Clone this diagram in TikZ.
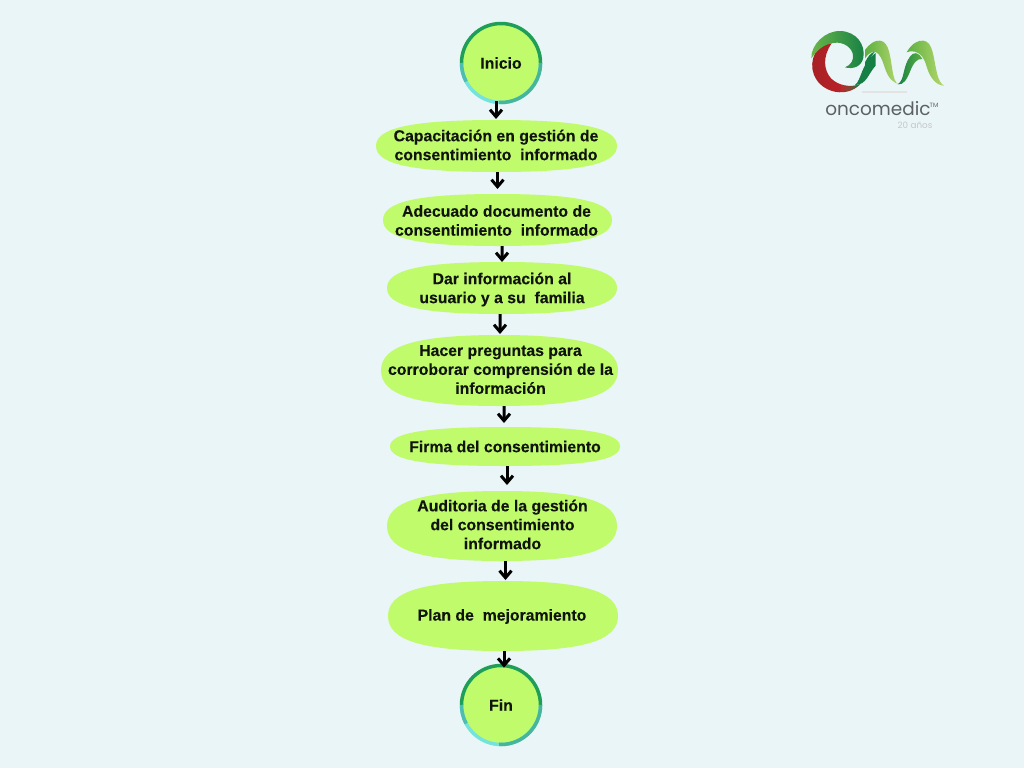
\documentclass[tikz,border=0pt]{standalone}
\usepackage{fontspec}
\setmainfont[BoldFeatures={FakeBold=0.12}]{Liberation Sans}
\newfontfamily\logofont{Poppins}
\usetikzlibrary{arrows.meta,shapes.geometric}
\definecolor{bgc}{HTML}{EAF5F7}
\definecolor{fillc}{HTML}{BFFB6B}
\definecolor{ringd}{HTML}{1F9E5A}
\definecolor{ringt}{HTML}{4DBDB4}
\definecolor{ringc}{HTML}{74E3DF}
\definecolor{ringm}{HTML}{45B69B}
\definecolor{txt}{HTML}{10140C}
\definecolor{lgd}{HTML}{167F45}
\definecolor{lgm}{HTML}{5DB043}
\definecolor{lgl}{HTML}{B7D86C}
\definecolor{lgr}{HTML}{C2252A}
\definecolor{logog}{HTML}{5C6064}
\def\px{0.02cm}
\tikzset{
  x=\px,y=-\px,
  lbl/.style={font=\bfseries\fontsize{9pt}{10.77pt}\selectfont,text=txt,align=center,inner sep=0pt},
  roundbox/.style={circle,fill=fillc,lbl,minimum size=82*\px},
  arr/.style={draw=black,line width=3*\px,-{Straight Barb[length=7*\px,width=12*\px,line width=3*\px]}},
  ringpart/.style={line width=3.5*\px,line cap=butt},
}
% name, cx, cy, width, height, text x-offset, text y-offset, text
\newcommand{\blob}[8]{%
  \pgfmathsetmacro{\hw}{#4/2}\pgfmathsetmacro{\hh}{#5/2}%
  \pgfmathsetmacro{\kx}{\hw*0.70}\pgfmathsetmacro{\ky}{\hh*0.70}%
  \fill[fillc] (#2-\hw,#3) .. controls (#2-\hw,#3-\ky) and (#2-\kx,#3-\hh) .. (#2,#3-\hh)
     .. controls (#2+\kx,#3-\hh) and (#2+\hw,#3-\ky) .. (#2+\hw,#3)
     .. controls (#2+\hw,#3+\ky) and (#2+\kx,#3+\hh) .. (#2,#3+\hh)
     .. controls (#2-\kx,#3+\hh) and (#2-\hw,#3+\ky) .. (#2-\hw,#3) -- cycle;
  \node[minimum width=#4*\px,minimum height=#5*\px,inner sep=0pt,outer sep=0pt] (#1) at (#2,#3) {};
  \node[lbl] at (#2+#6,#3+#7) {#8};
}
\begin{document}
\begin{tikzpicture}
\useasboundingbox (0,0) rectangle (1024,768);
\fill[bgc] (0,0) rectangle (1024,768);

\node[roundbox] (inicio) at (501,63) {Inicio};
\node[roundbox] (fin) at (501,705) {Fin};
\foreach \n in {inicio,fin}{
  \draw[ringpart,ringd] (\n.center) ++(-39.5,0) arc[start angle=180,end angle=0,radius=39.5*\px];
  \draw[ringpart,ringc] (\n.center) ++(-39.5,0) arc[start angle=180,end angle=360,radius=39.5*\px];
  \draw[ringpart,ringt] (\n.center) ++(-39.5,0) arc[start angle=180,end angle=208,radius=39.5*\px];
  \draw[ringpart,ringm] (\n.center) ++(-2,39.45) arc[start angle=267,end angle=360,radius=39.5*\px];
}

\blob{cap}{496.5}{146}{241}{52}{-0.5}{-1}{Capacitación en gestión de\\consentimiento\ \ informado}
\blob{ade}{497.5}{220}{229}{52}{-1}{0.5}{Adecuado documento de\\consentimiento\ \ informado}
\blob{dar}{502}{288}{230}{52}{0}{1.5}{Dar información al\\usuario y a su\ \ familia}
\blob{hac}{499.5}{370.5}{237}{71}{1}{-1}{Hacer preguntas para\\corroborar comprensión de la\\información}
\blob{fir}{505}{446.5}{230}{39}{0}{0}{Firma del consentimiento}
\blob{aud}{502}{526}{230}{70}{0.5}{-1.5}{Auditoria de la gestión\\del consentimiento\\informado}
\blob{pla}{503}{616}{230}{70}{-1}{0.5}{Plan de\ \ mejoramiento}

\draw[arr] ([xshift=-5*\px,yshift=3*\px]inicio.south) -- ([xshift=-0.5*\px,yshift=1*\px]cap.north);
\draw[arr] ([xshift=1*\px]cap.south) -- ([yshift=5*\px]ade.north);
\draw[arr] ([xshift=4.5*\px]ade.south) -- (dar.north);
\draw[arr] ([xshift=-2*\px]dar.south) -- ([xshift=0.5*\px,yshift=1*\px]hac.north);
\draw[arr] ([xshift=4.5*\px]hac.south) -- ([xshift=-1*\px,yshift=4*\px]fir.north);
\draw[arr] ([xshift=2*\px]fir.south) -- ([xshift=5*\px,yshift=6*\px]aud.north);
\draw[arr] ([xshift=3.5*\px]aud.south) -- ([xshift=2.5*\px,yshift=1*\px]pla.north);
\draw[arr] ([xshift=1*\px]pla.south) -- ([xshift=3*\px,yshift=-4*\px]fin.north);

% logo: swirl
\begin{scope}[shift={(805,25)},x=0.02cm/3,y=-0.02cm/3]
  \shade[left color=lgr!85!black,right color=lgr]
     (30,85) .. controls (10,125) and (25,178) .. (78,197) .. controls (110,208) and (145,200) .. (165,178)
     .. controls (135,188) and (100,182) .. (78,160) .. controls (56,135) and (52,95) .. (80,55)
     .. controls (60,55) and (42,68) .. (30,85) -- cycle;
  \shade[left color=lgr,right color=lgd]
     (110,200) .. controls (130,200) and (150,192) .. (165,178) .. controls (145,186) and (125,187) .. (108,180) -- cycle;
  \shade[left color=lgm!85!lgl,right color=lgd]
     (19,100) .. controls (17,60) and (60,16) .. (107,18) .. controls (155,20) and (182,60) .. (175,98)
     .. controls (170,124) and (145,134) .. (120,127) .. controls (138,120) and (148,105) .. (143,85)
     .. controls (135,60) and (105,48) .. (80,55) .. controls (52,60) and (35,78) .. (19,100) -- cycle;
  \fill[lgd] (150,180) .. controls (170,165) and (168,115) .. (212,84) -- (212,122)
     .. controls (190,145) and (185,180) .. (150,180) -- cycle;
\end{scope}
% logo: humps
\begin{scope}[shift={(865,25)},x=0.02cm/3,y=-0.02cm/3]
  \shade[left color=lgm,right color=lgl]
     (0,75) .. controls (15,55) and (30,45) .. (45,47) .. controls (75,50) and (75,100) .. (85,150)
     .. controls (90,170) and (95,178) .. (105,178) .. controls (85,175) and (70,160) .. (60,130)
     .. controls (52,105) and (45,85) .. (30,80) .. controls (20,80) and (10,85) .. (0,100) -- cycle;
  \fill[lgd] (30,80) .. controls (18,82) and (8,95) .. (0,112) -- (0,150) .. controls (8,125) and (15,95) .. (30,80) -- cycle;
  \shade[left color=lgd,right color=lgm]
     (98,178) .. controls (120,165) and (112,125) .. (135,95) .. controls (145,80) and (160,80) .. (172,102)
     .. controls (155,100) and (145,115) .. (135,140) .. controls (125,165) and (115,180) .. (98,178) -- cycle;
  \shade[left color=lgm,right color=lgl]
     (125,82) .. controls (140,55) and (160,45) .. (175,47) .. controls (205,50) and (205,100) .. (215,140)
     .. controls (220,165) and (228,178) .. (238,182) .. controls (215,182) and (195,160) .. (185,125)
     .. controls (178,100) and (168,85) .. (150,80) .. controls (140,78) and (132,78) .. (125,82) -- cycle;
\end{scope}
\fill[gray!22] (862,91) rectangle (907,92.5);
\node[font=\logofont\fontsize{10.5pt}{12pt}\selectfont,text=logog,inner sep=0pt] (brand) at (878,109) {oncomedic};
\node[font=\logofont\fontsize{3.5pt}{4pt}\selectfont,text=logog,inner sep=0pt] (tm) at (934,105) {TM};
\node[font=\logofont\fontsize{5pt}{6pt}\selectfont,text=logog!35,inner sep=0pt] (anos) at (915,125) {20 años};
\end{tikzpicture}
\end{document}
